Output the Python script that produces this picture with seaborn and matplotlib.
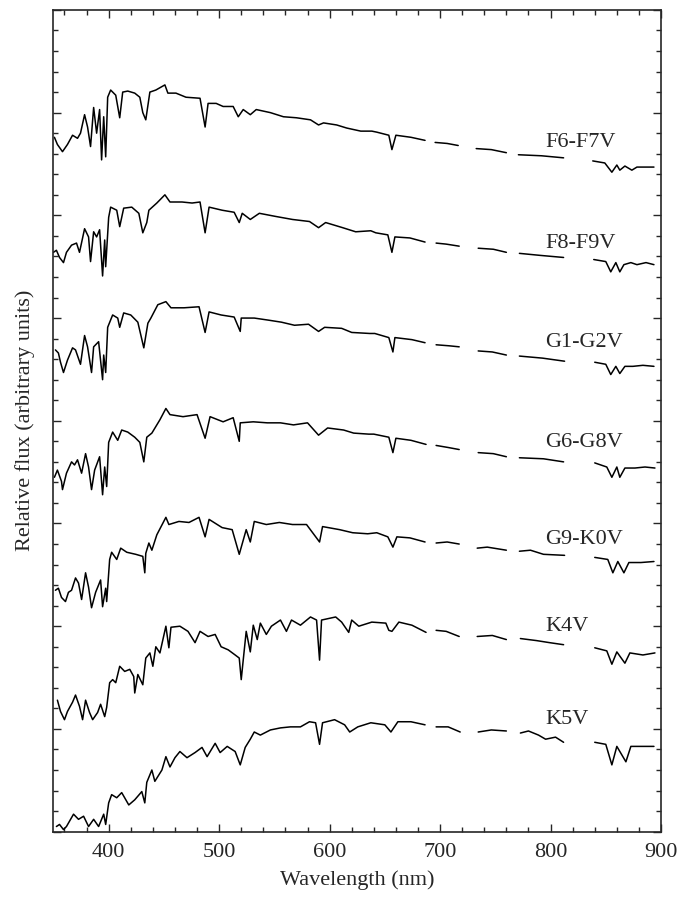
import numpy as np
import pandas as pd
import seaborn as sns
import matplotlib.pyplot as plt

nan = np.nan

# spectra: wavelength (nm) / relative flux (offset stacked), NaN = telluric gap
wl_f6 = [350.9, 353.6, 358.2, 362.7, 367.3, 371.8, 374.5, 378.2, 380.9, 383.6, 386.4, 389.1, 391.8, 393.6,
         395.5, 397.3, 399.1, 401.8, 406.4, 410.0, 412.7, 417.3, 423.6, 428.2, 430.9, 433.6, 437.3, 442.7,
         450.9, 453.6, 460.9, 470.0, 482.7, 487.3, 490.0, 497.3, 503.6, 512.7, 517.3, 521.8, 528.2, 533.6,
         546.4, 558.2, 570.0, 582.7, 590.0, 594.5, 606.4, 615.5, 628.2, 638.2, 642.7, 653.6, 656.4, 660.0,
         673.6, 686.4, nan, 695.5, 706.4, 716.4, nan, 732.7, 746.4, 760.0, nan, 770.9, 791.8, 811.8, nan,
         838.2, 849.1, 855.5, 860.0, 862.7, 867.3, 873.6, 878.2, 893.6]
fx_f6 = [6.76, 6.69, 6.62, 6.69, 6.78, 6.75, 6.80, 6.98, 6.86, 6.67, 7.05, 6.80, 7.03, 6.54,
         6.96, 6.57, 7.15, 7.22, 7.17, 6.95, 7.20, 7.21, 7.19, 7.15, 7.00, 6.93, 7.20, 7.22,
         7.27, 7.19, 7.19, 7.15, 7.14, 6.86, 7.09, 7.09, 7.06, 7.06, 6.96, 7.03, 6.98, 7.03,
         7.00, 6.96, 6.95, 6.93, 6.88, 6.90, 6.88, 6.85, 6.82, 6.82, 6.81, 6.78, 6.64, 6.78,
         6.76, 6.73, nan, 6.71, 6.70, 6.68, nan, 6.65, 6.64, 6.61, nan, 6.59, 6.58, 6.56, nan,
         6.53, 6.51, 6.42, 6.49, 6.44, 6.48, 6.44, 6.47, 6.47]

wl_f8 = [350.0, 352.7, 355.5, 359.1, 361.8, 366.4, 370.9, 373.6, 378.2, 381.8, 383.6, 386.4, 389.1, 391.8,
         394.5, 396.4, 397.3, 400.0, 401.8, 407.3, 410.0, 413.6, 420.9, 427.3, 430.9, 434.5, 436.4, 443.6,
         450.9, 455.5, 466.4, 475.5, 482.7, 487.3, 490.9, 502.7, 513.6, 518.2, 520.9, 528.2, 536.4, 550.9,
         566.4, 581.8, 590.0, 596.4, 611.8, 623.6, 637.3, 641.8, 652.7, 656.4, 659.1, 672.7, 686.4, nan,
         696.4, 705.5, 717.3, nan, 734.5, 748.2, 760.0, nan, 771.8, 790.9, 811.8, nan,
         839.1, 850.0, 854.5, 859.1, 862.7, 866.4, 872.7, 878.2, 886.4, 893.6]
fx_f8 = [5.64, 5.66, 5.59, 5.54, 5.64, 5.71, 5.73, 5.64, 5.87, 5.79, 5.55, 5.84, 5.79, 5.86,
         5.41, 5.76, 5.50, 5.98, 6.08, 6.05, 5.89, 6.07, 6.08, 6.02, 5.83, 5.93, 6.05, 6.12,
         6.20, 6.13, 6.13, 6.12, 6.13, 5.83, 6.08, 6.05, 6.03, 5.93, 6.02, 5.96, 6.02, 5.99,
         5.96, 5.94, 5.88, 5.93, 5.88, 5.84, 5.85, 5.83, 5.81, 5.64, 5.79, 5.78, 5.74, nan,
         5.73, 5.72, 5.70, nan, 5.68, 5.67, 5.64, nan, 5.63, 5.61, 5.59, nan,
         5.57, 5.55, 5.45, 5.54, 5.45, 5.52, 5.54, 5.52, 5.54, 5.52]

wl_g1 = [351.8, 354.5, 356.4, 359.1, 362.7, 367.3, 370.0, 374.5, 378.2, 380.9, 384.5, 386.4, 390.9, 394.5,
         395.5, 397.3, 399.1, 403.6, 408.2, 410.0, 413.6, 420.0, 426.4, 431.8, 435.5, 438.2, 444.5, 451.8,
         456.4, 468.2, 481.8, 487.3, 490.9, 501.8, 513.6, 519.1, 520.0, 531.8, 544.5, 556.4, 568.2, 580.9,
         590.0, 595.5, 610.9, 620.0, 636.4, 640.9, 653.6, 657.3, 659.1, 674.5, 686.4, nan,
         696.4, 708.2, 717.3, nan, 734.5, 747.3, 760.0, nan, 771.8, 792.7, 812.7, nan,
         840.0, 850.0, 854.5, 859.1, 862.7, 867.3, 874.5, 883.6, 893.6]
fx_g1 = [4.69, 4.66, 4.57, 4.47, 4.59, 4.71, 4.69, 4.55, 4.83, 4.72, 4.47, 4.72, 4.77, 4.40,
         4.64, 4.47, 4.91, 5.03, 5.00, 4.91, 5.05, 5.03, 4.96, 4.71, 4.95, 5.00, 5.13, 5.16,
         5.10, 5.10, 5.11, 4.86, 5.06, 5.03, 5.01, 4.87, 5.00, 5.00, 4.98, 4.96, 4.93, 4.94,
         4.87, 4.91, 4.90, 4.86, 4.85, 4.85, 4.81, 4.67, 4.81, 4.79, 4.76, nan,
         4.74, 4.73, 4.72, nan, 4.68, 4.67, 4.64, nan, 4.63, 4.61, 4.58, nan,
         4.57, 4.55, 4.45, 4.53, 4.46, 4.53, 4.53, 4.54, 4.53]

wl_g6 = [350.9, 353.6, 357.3, 358.2, 361.8, 366.4, 369.1, 371.8, 375.5, 379.1, 381.8, 384.5, 387.3, 391.8,
         394.5, 396.4, 398.2, 400.0, 403.6, 408.2, 411.8, 417.3, 423.6, 428.2, 431.8, 434.5, 439.1, 446.4,
         451.8, 455.5, 467.3, 480.0, 487.3, 491.8, 503.6, 512.7, 518.2, 519.1, 530.9, 543.6, 555.5, 567.3,
         580.0, 590.0, 598.2, 612.7, 621.8, 635.5, 640.0, 653.6, 657.3, 660.0, 673.6, 687.3, nan,
         696.4, 707.3, 717.3, nan, 734.5, 748.2, 760.0, nan, 771.8, 793.6, 811.8, nan,
         840.0, 850.9, 855.5, 860.0, 862.7, 867.3, 876.4, 885.5, 894.5]
fx_g6 = [3.45, 3.52, 3.41, 3.33, 3.49, 3.60, 3.57, 3.62, 3.49, 3.68, 3.55, 3.33, 3.52, 3.65,
         3.28, 3.55, 3.36, 3.79, 3.89, 3.81, 3.91, 3.89, 3.84, 3.79, 3.60, 3.84, 3.88, 4.01,
         4.12, 4.06, 4.04, 4.06, 3.83, 4.04, 3.99, 4.03, 3.80, 3.98, 3.99, 3.98, 3.98, 3.96,
         3.98, 3.86, 3.93, 3.91, 3.88, 3.87, 3.87, 3.84, 3.69, 3.83, 3.81, 3.77, nan,
         3.76, 3.74, 3.72, nan, 3.69, 3.68, 3.65, nan, 3.64, 3.63, 3.60, nan,
         3.59, 3.55, 3.45, 3.55, 3.45, 3.54, 3.54, 3.55, 3.54]

wl_g9 = [351.8, 354.5, 357.3, 360.9, 363.6, 366.4, 370.0, 372.7, 375.5, 379.1, 381.8, 384.5, 388.2, 392.7,
         394.5, 397.3, 398.2, 400.9, 402.7, 407.3, 410.9, 416.4, 424.5, 430.9, 432.7, 433.6, 436.4, 439.1,
         443.6, 451.8, 454.5, 463.6, 472.7, 481.8, 487.3, 490.9, 502.7, 511.8, 518.2, 524.5, 528.2, 531.8,
         542.7, 554.5, 566.4, 579.1, 590.9, 593.6, 609.1, 620.9, 634.5, 642.7, 652.7, 657.3, 660.9, 672.7,
         686.4, nan, 696.4, 706.4, 717.3, nan, 733.6, 742.7, 760.0, nan, 771.8, 781.8, 793.6, 812.7, nan,
         840.0, 851.8, 856.4, 860.9, 866.4, 870.9, 881.8, 893.6]
fx_g9 = [2.35, 2.37, 2.28, 2.24, 2.33, 2.35, 2.47, 2.42, 2.26, 2.52, 2.38, 2.18, 2.33, 2.45,
         2.19, 2.37, 2.24, 2.65, 2.72, 2.65, 2.76, 2.72, 2.70, 2.68, 2.52, 2.71, 2.81, 2.74,
         2.89, 3.06, 2.99, 3.02, 3.01, 3.06, 2.87, 3.04, 2.96, 2.94, 2.70, 2.94, 2.82, 3.02,
         2.99, 3.01, 2.99, 2.99, 2.82, 2.97, 2.94, 2.91, 2.90, 2.91, 2.87, 2.77, 2.87, 2.86,
         2.82, nan, 2.81, 2.82, 2.80, nan, 2.76, 2.77, 2.74, nan, 2.73, 2.74, 2.70, 2.69, nan,
         2.67, 2.65, 2.52, 2.63, 2.52, 2.62, 2.62, 2.63]

wl_k4 = [353.6, 356.4, 360.0, 362.7, 367.3, 370.0, 373.6, 376.4, 379.1, 382.7, 385.5, 390.0, 392.7, 396.4,
         398.2, 400.9, 403.6, 406.4, 410.0, 414.5, 419.1, 422.7, 423.6, 426.4, 430.9, 433.6, 437.3, 440.0,
         442.7, 446.4, 451.8, 454.5, 456.4, 464.5, 471.8, 478.2, 482.7, 490.0, 496.4, 501.8, 508.2, 514.5,
         518.2, 520.0, 521.8, 524.5, 528.2, 530.9, 534.5, 537.3, 542.7, 547.3, 555.5, 560.9, 565.5, 573.6,
         582.7, 588.2, 590.9, 592.7, 605.5, 610.9, 617.3, 620.0, 626.4, 638.2, 650.9, 653.6, 656.4, 662.7,
         674.5, 687.3, nan, 696.4, 705.5, 717.3, nan, 733.6, 747.3, 760.0, nan, 772.7, 787.3, 799.1, 811.8,
         nan, 840.0, 850.9, 855.5, 860.0, 867.3, 871.8, 883.6, 894.5]
fx_k4 = [1.28, 1.17, 1.09, 1.17, 1.26, 1.33, 1.22, 1.09, 1.28, 1.16, 1.09, 1.16, 1.24, 1.12,
         1.21, 1.45, 1.48, 1.45, 1.61, 1.56, 1.58, 1.51, 1.35, 1.53, 1.43, 1.69, 1.74, 1.61,
         1.80, 1.74, 2.00, 1.79, 1.99, 2.00, 1.95, 1.84, 1.95, 1.90, 1.92, 1.80, 1.77, 1.72,
         1.69, 1.48, 1.67, 1.95, 1.75, 2.01, 1.87, 2.03, 1.92, 2.00, 2.06, 1.95, 2.06, 2.01,
         2.09, 2.06, 1.67, 2.06, 2.09, 2.04, 1.94, 2.06, 2.00, 2.04, 2.03, 1.96, 1.95, 2.04,
         2.01, 1.94, nan, 1.96, 1.95, 1.90, nan, 1.90, 1.91, 1.87, nan, 1.88, 1.86, 1.84, 1.82,
         nan, 1.79, 1.76, 1.63, 1.75, 1.64, 1.74, 1.72, 1.74]

wl_k5 = [352.7, 355.5, 359.1, 361.8, 368.2, 372.7, 377.3, 381.8, 386.4, 390.9, 395.5, 397.3, 400.0, 402.7,
         407.3, 411.8, 418.2, 423.6, 430.0, 432.7, 434.5, 439.1, 441.8, 448.2, 451.8, 455.5, 460.0, 464.5,
         470.9, 478.2, 484.5, 489.1, 496.4, 500.9, 507.3, 514.5, 519.1, 523.6, 528.2, 531.8, 537.3, 546.4,
         555.5, 564.5, 573.6, 581.8, 587.3, 590.9, 593.6, 604.5, 613.6, 618.2, 625.5, 637.3, 650.0, 655.5,
         661.8, 673.6, 686.4, nan, 696.4, 707.3, 718.2, nan, 734.5, 746.4, 760.0, nan,
         772.7, 780.0, 789.1, 795.5, 804.5, 811.8, nan, 840.0, 850.0, 855.5, 860.0, 868.2, 872.7, 886.4, 893.6]
fx_k5 = [0.05, 0.07, 0.02, 0.05, 0.17, 0.12, 0.15, 0.05, 0.12, 0.05, 0.17, 0.07, 0.28, 0.36,
         0.33, 0.38, 0.26, 0.31, 0.39, 0.28, 0.48, 0.60, 0.49, 0.60, 0.73, 0.63, 0.72, 0.78,
         0.72, 0.77, 0.82, 0.73, 0.86, 0.77, 0.83, 0.78, 0.65, 0.82, 0.90, 0.97, 0.94, 0.99,
         1.01, 1.02, 1.02, 1.07, 1.06, 0.85, 1.06, 1.09, 1.04, 0.97, 1.02, 1.06, 1.04, 0.97,
         1.07, 1.07, 1.04, nan, 1.02, 1.02, 0.97, nan, 0.97, 0.99, 0.98, nan,
         0.96, 0.98, 0.94, 0.90, 0.92, 0.87, nan, 0.87, 0.85, 0.65, 0.83, 0.68, 0.83, 0.83, 0.83]

names = ["F6-F7V", "F8-F9V", "G1-G2V", "G6-G8V", "G9-K0V", "K4V", "K5V"]
wls = [wl_f6, wl_f8, wl_g1, wl_g6, wl_g9, wl_k4, wl_k5]
fxs = [fx_f6, fx_f8, fx_g1, fx_g6, fx_g9, fx_k4, fx_k5]
label_y = [6.71, 5.73, 4.76, 3.79, 2.84, 2.00, 1.09]

rows = []
for name, wl, fx in zip(names, wls, fxs):
    seg = 0
    for w, f in zip(wl, fx):
        if np.isnan(f):
            seg += 1
            continue
        rows.append({"star": name, "seg": f"{name}_{seg}", "wl": w, "flux": f})
df = pd.DataFrame(rows)

sns.set_style("ticks")
plt.rcParams['font.family'] = ['Liberation Serif', 'DejaVu Serif']
plt.rcParams['mathtext.fontset'] = 'stix'

fig = plt.figure(figsize=(6.85, 9.02), dpi=100)
ax = fig.add_axes([0.078, 0.078, 0.887, 0.911])

sns.lineplot(data=df, x="wl", y="flux", units="seg", estimator=None, sort=False,
             color="black", linewidth=1.1, ax=ax, legend=False)

for name, y in zip(names, label_y):
    ax.text(795, y, name, fontsize=16, ha="left", va="center")

ax.set_xlim(350, 900)
ax.set_ylim(0, 8)
ax.set_xticks(range(400, 901, 100))
ax.set_xticks(range(360, 900, 20), minor=True)
ax.set_yticks(range(0, 9))
ax.set_yticks(np.arange(0, 8.01, 0.2), minor=True)
ax.set_yticklabels([])
ax.tick_params(which="both", direction="in", top=True, right=True, width=1.0)
ax.tick_params(which="major", length=6)
ax.tick_params(which="minor", length=3.5)
ax.tick_params(axis="x", labelsize=16, pad=8)
for s in ax.spines.values():
    s.set_linewidth(1.2)

ax.set_xlabel("Wavelength (nm)", fontsize=16, labelpad=6)
ax.set_ylabel("Relative flux (arbitrary units)", fontsize=16, labelpad=10)

fig.savefig("out.png", dpi=100)
